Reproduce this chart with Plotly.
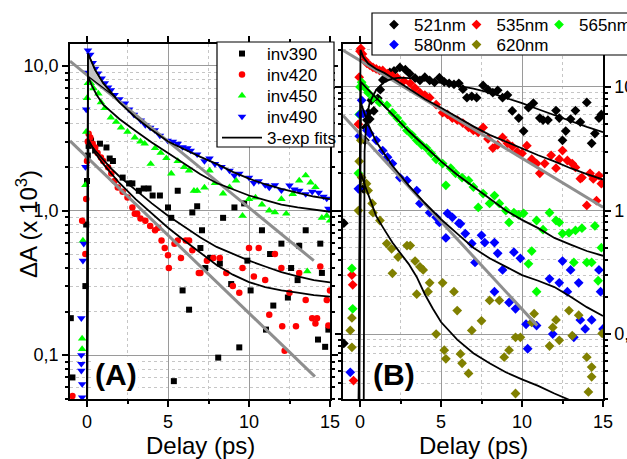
import plotly.graph_objects as go

W, H = 627, 459

# ---------------- Panel A data: (delay ps, dA x1e3) ----------------
inv390 = [(-1.0,0.18),(-0.9,0.07),(-0.1,0.3),(-0.05,0.8),(0.0,1.6),(0.05,2.4),(0.1,2.8),(0.25,3.05),
          (0.5,2.6),(0.8,2.9),(1.2,2.73),(1.4,2.29),(1.6,2.2),(2.2,1.69),(2.6,1.54),(2.8,1.54),(3.2,1.37),
          (3.5,1.42),(3.8,1.42),(4.05,1.27),(4.5,1.27),(5.0,1.05),(5.2,0.89),(5.36,0.066),(5.6,1.37),
          (5.9,0.28),(6.3,0.206),(6.5,0.97),(6.8,1.07),(7.0,0.55),(7.1,0.73),(7.3,0.40),(7.6,0.47),
          (8.1,0.096),(8.2,0.43),(8.4,0.89),(8.9,0.31),(9.1,1.05),(9.4,0.113),(9.7,1.12),(9.9,0.45),
          (10.1,0.28),(10.8,0.73),(11.05,0.15),(11.3,0.50),(11.5,0.22),(12.0,0.59),(12.4,0.25),
          (12.6,0.40),(13.0,0.33),(13.1,0.57),(13.5,0.73),(14.26,0.128),(14.4,0.59),(14.5,0.37),
          (14.7,0.114),(14.9,0.15)]
inv420 = [(-0.9,0.052),(-0.3,0.85),(-0.1,0.5),(-0.05,1.2),(0.0,2.2),(0.05,3.0),(0.1,3.4),(0.2,3.2),
          (0.35,2.9),(0.5,2.73),(0.65,2.5),(0.86,2.33),(1.0,2.2),(1.3,1.99),(1.5,1.8),(1.7,1.6),(1.9,1.44),
          (2.2,1.35),(2.5,1.23),(2.8,1.05),(2.95,0.95),(3.1,0.95),(3.3,0.88),(3.6,0.85),(3.9,0.78),
          (4.2,0.73),(4.4,0.76),(4.6,0.62),(4.8,0.55),(5.0,0.49),(5.05,0.40),(5.4,0.59),(5.6,0.62),
          (5.8,0.47),(6.1,0.62),(6.3,0.62),(6.5,0.53),(6.9,0.37),(7.0,0.37),(7.4,0.45),(7.8,0.47),
          (8.2,0.47),(8.6,0.37),(9.0,0.30),(9.4,0.27),(9.6,0.40),(10.0,0.55),(10.3,0.35),(10.6,0.55),
          (11.0,0.33),(11.25,0.19),(11.6,0.50),(12.0,0.40),(12.05,0.158),(12.2,0.107),(12.5,0.27),
          (12.9,0.158),(13.1,0.37),(13.5,0.24),(13.9,0.18),(14.1,0.165),(14.2,0.18),(14.4,0.41),
          (14.8,0.24),(14.9,0.16),(15.0,0.28)]
inv450 = [(-0.3,0.13),(-0.3,0.11),(-0.25,0.62),(-0.1,1.5),(-0.05,3.5),(0.0,6.0),(0.05,7.6),(0.23,7.6),
          (0.4,7.0),(0.7,6.45),(0.86,5.6),(1.1,5.1),(1.47,4.4),(1.8,4.1),(2.1,3.75),(2.5,3.5),(2.95,3.2),
          (3.3,3.0),(3.56,2.9),(3.93,2.1),(4.2,2.7),(4.55,2.5),(4.9,2.3),(5.2,1.8),(5.6,2.2),(6.0,2.0),
          (6.3,1.89),(6.6,1.37),(6.8,1.37),(7.25,1.44),(7.56,1.89),(7.9,1.55),(8.4,1.31),(8.8,1.45),
          (9.2,1.61),(9.6,0.92),(10.0,1.2),(10.4,1.23),(10.8,1.1),(11.25,1.0),(11.6,0.97),(12.0,1.2),
          (12.3,0.95),(12.7,1.3),(13.1,1.61),(13.5,1.75),(13.6,0.38),(13.8,1.56),(14.1,1.45),
          (14.5,0.89),(14.8,0.92),(15.0,0.85)]
inv490 = [(-0.35,0.18),(-0.35,0.1),(-0.35,0.087),(-0.35,0.078),(-0.3,0.063),(-0.3,0.051),(-0.25,0.45),
          (-0.2,0.59),(-0.1,2.0),(-0.05,5.0),(0.0,9.0),(0.06,12.8),(0.2,12.0),(0.35,10.5),(0.5,9.6),
          (0.68,8.9),(0.9,8.2),(1.1,7.6),(1.3,7.1),(1.47,6.8),(1.7,6.3),(2.0,5.9),(2.34,5.5),(2.6,5.0),
          (2.9,4.6),(3.32,4.2),(3.6,3.9),(3.9,3.75),(4.18,3.6),(4.5,3.3),(4.98,3.05),(5.3,3.0),(5.6,2.9),
          (5.9,2.75),(6.2,2.7),(6.4,2.6),(6.8,2.45),(7.25,2.2),(7.56,2.29),(7.9,2.1),(8.3,2.0),(8.8,1.89),
          (9.1,1.75),(9.4,1.8),(10.0,1.69),(10.3,1.55),(10.6,1.6),(11.0,1.5),(11.25,1.44),(11.6,1.5),
          (12.0,1.38),(12.5,1.49),(12.8,1.4),(13.1,1.37),(13.5,1.3),(13.9,1.35),(14.3,1.33),(14.6,1.25),
          (14.8,1.21),(14.9,1.03)]

fit390 = [(-0.02,0.01),(0.08,3.0),(0.5,2.6),(1.0,2.25),(1.5,1.95),(2.0,1.72),(3.0,1.38),(4.0,1.12),
          (5.0,0.92),(6.0,0.77),(7.0,0.65),(8.0,0.56),(9.0,0.5),(10.0,0.45),(11.0,0.41),(12.0,0.375),
          (13.0,0.35),(14.0,0.33),(15.0,0.318)]
fit420 = [(-0.02,0.01),(0.08,3.1),(0.5,2.5),(1.0,2.1),(1.5,1.8),(2.0,1.55),(3.0,1.2),(4.0,0.95),
          (5.0,0.76),(6.0,0.62),(7.0,0.51),(8.0,0.42),(9.0,0.36),(10.0,0.32),(11.0,0.295),(12.0,0.28),
          (13.0,0.27),(14.0,0.26),(15.0,0.254)]
fit450 = [(-0.02,0.01),(0.06,8.5),(0.3,7.3),(0.6,6.3),(1.0,5.4),(1.5,4.8),(2.0,4.3),(3.0,3.55),(4.0,2.95),
          (5.0,2.5),(6.0,2.1),(7.0,1.78),(8.0,1.55),(9.0,1.4),(10.0,1.27),(11.0,1.18),(12.0,1.1),
          (13.0,1.05),(14.0,1.01),(15.0,0.98)]
fit490 = [(-0.02,0.01),(0.06,12.2),(0.3,10.6),(0.5,9.4),(1.0,7.6),(1.5,6.5),(2.0,5.6),(3.0,4.4),(4.0,3.6),
          (5.0,3.0),(6.0,2.65),(7.0,2.35),(8.0,2.1),(9.0,1.85),(10.0,1.66),(11.0,1.52),(12.0,1.41),
          (13.0,1.32),(14.0,1.25),(15.0,1.2)]
shadeA = [(0.06,12.2),(0.3,10.6),(0.5,9.4),(1.0,7.6),(1.5,6.5),(1.75,6.1),(0.06,8.5),(0.06,12.2)]
grayA1 = [(-1.05,10.8),(14.0,0.45)]
grayA2 = [(-1.05,3.03),(14.07,0.071)]

# ---------------- Panel B data ----------------
nm521 = [(-1.0,0.79),(-1.0,0.084),(0.2,1.5),(0.3,3.7),(0.35,4.7),(0.43,5.4),(0.5,6.2),(0.6,5.5),(0.7,7.8),
         (0.85,6.4),(1.1,8.1),(1.25,9.5),(1.41,11.4),(1.6,11.8),(1.84,13.1),(2.1,13.5),(2.46,14.4),
         (2.8,13.8),(3.07,12.8),(3.4,11.8),(3.7,11.3),(4.0,12.0),(4.3,11.3),(4.6,10.9),(4.9,11.9),
         (5.2,11.0),(5.5,10.7),(5.8,10.5),(6.1,10.7),(6.35,9.6),(6.6,8.2),(6.9,8.4),(7.2,8.2),(7.6,10.3),
         (7.9,9.5),(8.2,9.0),(8.5,9.4),(8.8,8.2),(9.1,8.6),(9.4,6.4),(9.8,5.6),(10.1,4.4),(10.4,6.8),
         (10.7,7.4),(11.1,5.6),(11.3,5.4),(11.6,5.4),(12.1,6.45),(12.3,5.6),(12.5,3.7),(12.7,4.4),
         (13.0,5.5),(13.3,6.45),(13.6,5.2),(14.0,7.5),(14.3,3.5),(14.5,4.2),(14.75,5.6),(14.9,6.0)]
nm535 = [(-0.5,0.3),(-0.45,0.25),(-0.4,0.042),(-0.1,5.0),(-0.05,12.0),(0.0,19.5),(0.05,20.5),(0.15,18.5),
         (0.3,16.5),(0.43,15.5),(0.6,15.0),(0.8,14.4),(1.0,14.0),(1.2,13.6),(1.4,13.6),(1.7,12.8),
         (2.0,12.3),(2.3,11.9),(2.7,11.2),(3.1,10.7),(3.4,9.8),(3.7,9.0),(4.0,8.6),(4.3,8.2),(4.7,7.2),
         (5.1,6.2),(5.4,6.0),(5.7,5.6),(6.0,5.4),(6.35,5.1),(6.7,4.7),(7.0,4.45),(7.3,4.3),(7.6,4.7),
         (7.9,3.8),(8.2,3.2),(8.5,3.4),(8.8,3.9),(9.1,3.5),(9.4,3.3),(9.7,3.0),(10.0,2.9),(10.3,3.35),
         (10.6,2.6),(10.9,2.4),(11.1,2.0),(11.4,2.4),(11.8,2.8),(12.1,2.2),(12.3,2.6),(12.5,3.06),
         (12.8,2.54),(13.1,2.4),(13.3,2.23),(13.6,1.81),(13.7,1.85),(14.0,1.1),(14.2,2.0),(14.4,1.8),
         (14.6,1.2),(14.75,1.92),(14.9,1.65)]
nm565 = [(-0.5,0.34),(-0.45,0.16),(-0.1,2.0),(-0.05,6.0),(0.0,10.0),(0.1,10.9),(0.3,9.9),(0.5,9.0),
         (0.8,8.2),(1.2,7.5),(1.66,7.1),(2.0,6.2),(2.3,5.6),(2.6,5.0),(2.9,4.45),(3.2,4.1),(3.5,3.7),
         (3.8,3.4),(4.1,3.2),(4.4,2.9),(4.7,2.6),(5.1,2.4),(5.3,1.6),(5.6,2.2),(5.9,2.0),(6.3,1.85),
         (6.7,1.75),(7.0,1.55),(7.3,1.06),(7.6,1.37),(8.0,1.14),(8.3,1.32),(8.6,1.14),(9.0,1.0),
         (9.2,0.80),(9.5,0.96),(9.8,0.92),(10.1,0.95),(10.4,0.37),(10.6,0.47),(10.9,0.83),(10.9,0.22),
         (11.3,0.7),(11.7,0.96),(12.1,0.83),(12.3,0.80),(12.5,0.65),(12.9,0.66),(13.2,0.38),(13.3,0.69),
         (13.7,0.72),(14.0,0.38),(14.3,0.38),(14.5,0.75),(14.7,0.27),(14.9,0.5)]
nm580 = [(-0.6,0.049),(-0.1,1.5),(-0.05,4.0),(0.0,6.0),(0.1,7.8),(0.2,6.1),(0.43,4.45),(0.6,4.2),
         (1.0,3.7),(1.4,3.06),(1.7,2.7),(2.0,2.4),(2.46,1.85),(2.9,1.75),(3.5,1.45),(3.7,1.14),(4.3,0.96),
         (4.7,0.88),(4.9,0.80),(5.3,0.60),(5.4,0.95),(5.7,0.88),(6.1,0.79),(6.2,0.78),(6.5,0.65),
         (6.9,0.54),(7.1,0.38),(7.5,0.63),(7.7,0.55),(8.3,0.55),(8.3,0.22),(8.5,0.45),(8.8,0.33),
         (9.2,0.18),(9.5,0.46),(9.6,0.16),(9.9,0.41),(10.25,0.12),(10.35,0.076),(10.9,0.117),(11.7,0.28),
         (11.9,0.1),(12.3,0.26),(12.5,0.39),(12.8,0.22),(13.0,0.33),(13.2,0.094),(13.5,0.26),(13.6,0.13),
         (13.9,0.11),(14.3,0.13),(14.75,0.33),(14.85,0.22),(15.0,0.11)]
nm620 = [(-0.6,0.107),(-0.5,0.135),(-0.5,0.078),(-0.1,1.0),(-0.05,2.5),(0.05,3.7),(0.1,1.85),(0.4,1.65),
         (0.5,1.45),(0.75,1.14),(0.8,0.96),(1.23,0.83),(1.65,0.54),(1.95,0.49),(2.0,0.31),(2.35,0.42),
         (2.9,0.52),(3.1,0.52),(3.4,0.39),(3.5,0.21),(3.7,0.35),(3.9,0.33),(4.2,0.22),(4.3,0.26),
         (4.7,0.10),(5.1,0.26),(5.2,0.074),(5.3,0.063),(5.8,0.22),(6.0,0.155),(6.2,0.069),(6.3,0.058),
         (6.7,0.048),(6.9,0.107),(7.5,0.128),(8.0,0.187),(8.6,0.187),(8.9,0.065),(9.2,0.074),(9.6,0.094),
         (9.6,0.033),(9.9,0.094),(10.6,0.124),(10.75,0.146),(11.7,0.08),(11.9,0.113),(12.1,0.13),
         (12.3,0.089),(12.9,0.155),(13.1,0.097),(13.5,0.142),(14.0,0.065),(14.1,0.034),(14.3,0.054),
         (14.3,0.045),(14.95,0.101)]

fit521 = [(0.22,0.01),(0.28,3.0),(0.4,5.5),(0.6,7.5),(1.0,9.5),(1.5,11.0),(2.0,11.7),(2.5,11.9),(3.0,11.8),
          (4.0,11.4),(5.0,10.8),(6.0,10.2),(7.0,9.7),(8.0,9.0),(9.0,8.2),(10.0,7.4),(11.0,6.6),(12.0,5.9),
          (13.0,5.3),(14.0,4.75),(15.0,4.3)]
fit535 = [(-0.1,0.01),(0.03,20.0),(0.2,17.5),(0.5,15.5),(1.0,14.0),(1.5,13.0),(2.0,11.8),(3.0,9.7),
          (4.0,8.0),(5.0,6.8),(6.0,5.7),(7.0,4.8),(8.0,4.1),(9.0,3.6),(10.0,3.15),(11.0,2.8),(12.0,2.5),
          (13.0,2.2),(14.0,1.97),(15.0,1.78)]
fit565 = [(-0.1,0.01),(0.05,11.0),(0.5,9.5),(1.0,8.2),(2.0,6.0),(3.0,4.4),(4.0,3.3),(5.0,2.5),(6.0,1.95),
          (7.0,1.55),(8.0,1.25),(9.0,1.0),(10.0,0.84),(11.0,0.72),(12.0,0.6),(13.0,0.53),(14.0,0.47),
          (15.0,0.43)]
fit580 = [(-0.1,0.01),(0.05,7.5),(0.5,5.0),(1.0,3.6),(2.0,2.3),(3.0,1.6),(4.0,1.15),(5.0,0.85),(6.0,0.65),
          (7.0,0.5),(8.0,0.41),(9.0,0.35),(10.0,0.3),(11.0,0.27),(12.0,0.24),(13.0,0.2),(14.0,0.165),
          (15.0,0.14)]
fit620 = [(-0.1,0.01),(0.05,2.0),(0.3,1.6),(0.6,1.25),(1.0,0.9),(1.5,0.7),(2.0,0.55),(2.5,0.45),(3.0,0.37),
          (3.5,0.29),(4.0,0.21),(4.5,0.16),(5.0,0.125),(6.0,0.09),(7.0,0.07),(8.0,0.058),(9.0,0.049),
          (10.0,0.043),(11.0,0.038),(12.0,0.033),(13.0,0.029),(14.0,0.026),(15.0,0.023)]
grayB1 = [(-1.05,19.8),(15.0,1.065)]
grayB2 = [(-1.05,5.88),(10.94,0.117)]

tick_vals = [0, 5, 10, 15]
ticks_A = ["0,1", "1,0", "10,0"]
ticks_B = ["0,1", "1", "10"]

# ---------------- figure ----------------
def xs(p): return [a for a, b in p]
def ys(p): return [b for a, b in p]

FONT = "Liberation Sans, Arial, sans-serif"
GRAY = "#8e8e8e"
fig = go.Figure()

def data_trace(pts, name, color, symbol, size, ax, legend):
    fig.add_trace(go.Scatter(x=xs(pts), y=ys(pts), mode="markers", name=name,
                             marker=dict(color=color, symbol=symbol, size=size, line=dict(width=0)),
                             xaxis=ax[0], yaxis=ax[1], legend=legend))

A = ("x", "y"); B = ("x2", "y2")
data_trace(inv390, "inv390", "#000000", "square", 6, A, "legend11")
data_trace(inv420, "inv420", "#ff0000", "circle", 6.5, A, "legend4")
data_trace(inv450, "inv450", "#00ff00", "triangle-up", 7.5, A, "legend5")
data_trace(inv490, "inv490", "#0000ff", "triangle-down", 7.5, A, "legend6")

data_trace(nm521, "521nm", "#000000", "diamond", 7.5, B, "legend2")
data_trace(nm535, "535nm", "#ff0000", "diamond", 7.5, B, "legend10")
data_trace(nm565, "565nm", "#00ff00", "diamond", 7.5, B, "legend8")
data_trace(nm580, "580nm", "#0000ff", "diamond", 7.5, B, "legend3")
data_trace(nm620, "620nm", "#808000", "diamond", 7.5, B, "legend9")

for g, ax in [(grayA1, A), (grayA2, A), (grayB1, B), (grayB2, B)]:
    fig.add_trace(go.Scatter(x=xs(g), y=ys(g), mode="lines", line=dict(color=GRAY, width=3),
                             showlegend=False, xaxis=ax[0], yaxis=ax[1], hoverinfo="skip"))

fig.add_trace(go.Scatter(x=xs(shadeA), y=ys(shadeA), mode="lines", fill="toself",
                         fillcolor="#c4c4c4", line=dict(color="black", width=1.2),
                         showlegend=False, xaxis="x", yaxis="y", hoverinfo="skip"))

first = True
for f, ax in [(fit390, A), (fit420, A), (fit450, A), (fit490, A),
              (fit521, B), (fit535, B), (fit565, B), (fit580, B), (fit620, B)]:
    fig.add_trace(go.Scatter(x=xs(f), y=ys(f), mode="lines", line=dict(color="black", width=1.8),
                             name="3-exp fits", showlegend=first, legend="legend7",
                             xaxis=ax[0], yaxis=ax[1], hoverinfo="skip"))
    first = False

minor_log = [m * 10 ** e for e in (-2, -1, 0, 1) for m in range(2, 10)]

def xaxis(domain, anchor):
    return dict(domain=domain, anchor=anchor, range=[-1.05, 15], tickmode="array", tickvals=tick_vals,
                ticks="outside", ticklen=6, tickwidth=1.5, tickcolor="black", automargin=False,
                showline=True, linecolor="black", linewidth=1.5, mirror="allticks",
                showgrid=True, gridcolor="#9a9a9a", gridwidth=1, zeroline=False,
                tickfont=dict(size=18, family=FONT, color="black"),
                minor=dict(tickmode="array", tickvals=[2.5, 7.5, 12.5], ticks="outside", ticklen=3,
                           tickcolor="black", showgrid=True, gridcolor="#c6c6c6", griddash="dot", gridwidth=1))

def yaxis(domain, anchor, rng, text, side):
    return dict(domain=domain, anchor=anchor, type="log", range=rng, tickmode="array",
                tickvals=[0.1, 1, 10], ticktext=text, side=side, automargin=False,
                ticks="outside", ticklen=6, tickwidth=1.5, tickcolor="black",
                showline=True, linecolor="black", linewidth=1.5, mirror="allticks",
                showgrid=True, gridcolor="#9a9a9a", gridwidth=1, zeroline=False,
                tickfont=dict(size=18, family=FONT, color="black"),
                minor=dict(tickmode="array", tickvals=minor_log, ticks="outside", ticklen=3,
                           tickcolor="black", showgrid=True, gridcolor="#c6c6c6", griddash="dot", gridwidth=1))

def leg(top_px, left_px, size, horizontal=False):
    d = dict(x=left_px / W, y=1 - top_px / H, xanchor="left", yanchor="top",
             bgcolor="rgba(0,0,0,0)", borderwidth=0, font=dict(size=size, family=FONT, color="black"),
             itemwidth=40 if not horizontal else 30)
    if horizontal:
        d.update(orientation="h")
    return d

ydom = [1 - 399 / H, 1 - 44 / H]
fig.update_layout(
    width=W, height=H, margin=dict(l=0, r=0, t=0, b=0, autoexpand=False),
    paper_bgcolor="white", plot_bgcolor="white",
    font=dict(family=FONT, color="black"),
    xaxis=xaxis([70 / W, 330 / W], "y"),
    yaxis=yaxis(ydom, "x", [-1.304, 1.152], ticks_A, "left"),
    xaxis2=xaxis([343 / W, 603 / W], "y2"),
    yaxis2=yaxis(ydom, "x2", [-1.526, 1.348], ticks_B, "right"),
    legend11=leg(36, 217, 17),
    legend4=leg(57, 217, 17),
    legend5=leg(78, 217, 17),
    legend6=leg(99, 217, 17),
    legend7=leg(120, 217, 17),
    legend2=leg(7, 374, 17, True),
    legend10=leg(7, 456.5, 17, True),
    legend8=leg(7, 539, 17, True),
    legend3=leg(27, 374, 17, True),
    legend9=leg(27, 456.5, 17, True),
    showlegend=True,
)

# legend boxes
fig.add_shape(type="rect", xref="paper", yref="paper", x0=217 / W, x1=334 / W,
              y0=1 - 147 / H, y1=1 - 42 / H, line=dict(color="black", width=1.2),
              fillcolor="white", layer="above")
fig.add_shape(type="rect", xref="paper", yref="paper", x0=372 / W, x1=660 / W,
              y0=1 - 55 / H, y1=1 - 13 / H, line=dict(color="black", width=1.2),
              fillcolor="white", layer="above")

base = dict(xref="paper", yref="paper", showarrow=False)
fig.add_annotation(text="Delay (ps)", x=200 / W, y=1 - 445 / H, xanchor="center", yanchor="middle",
                   font=dict(family=FONT, size=24, color="black"), **base)
fig.add_annotation(text="Delay (ps)", x=473 / W, y=1 - 445 / H, xanchor="center", yanchor="middle",
                   font=dict(family=FONT, size=24, color="black"), **base)
fig.add_annotation(text="ΔA (x 10<sup>3</sup>)", x=27 / W, y=1 - 224 / H, textangle=-90,
                   xanchor="center", yanchor="middle",
                   font=dict(family=FONT, size=24, color="black"), **base)
fig.add_annotation(text="<b>(A)</b>", x=116 / W, y=1 - 374 / H, xanchor="center", yanchor="middle",
                   bgcolor="white", font=dict(family=FONT, size=30, color="black"), **base)
fig.add_annotation(text="<b>(B)</b>", x=394 / W, y=1 - 374 / H, xanchor="center", yanchor="middle",
                   bgcolor="white", font=dict(family=FONT, size=30, color="black"), **base)

fig.write_html("out.html", config={"displayModeBar": False},
               post_script="document.body.style.margin='0px';")
